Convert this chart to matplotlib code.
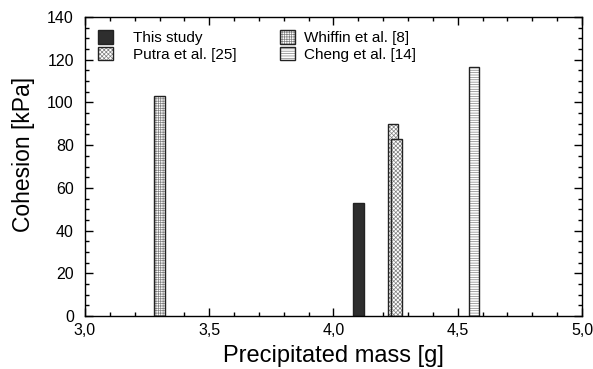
import matplotlib
matplotlib.use("Agg")
import matplotlib.pyplot as plt
from matplotlib.ticker import MultipleLocator, FuncFormatter

plt.rcParams['font.family'] = ['Liberation Sans', 'DejaVu Sans']
plt.rcParams['hatch.linewidth'] = 0.5

# Data
labels = ["This study", "Whiffin et al. [8]", "Putra et al. [25]", "Putra et al. [25]", "Cheng et al. [14]"]
mass = [4.10, 3.30, 4.24, 4.255, 4.565]
cohesion = [53, 103, 90, 83, 116.5]
hatches = [None, "+++++++", "xxxxxxxx", "xxxxxxxx", "-------"]
faces = ["#2e2e2e", "white", "white", "white", "white"]

fig = plt.figure(figsize=(5.93, 3.69), dpi=100)
ax = fig.add_axes([0.1433, 0.1436, 0.8381, 0.8103])

width = 0.043
handles = {}
for lab, x, y, h, fc in zip(labels, mass, cohesion, hatches, faces):
    b = ax.bar(x, y, width=width, color=fc, edgecolor="#222222", hatch=h,
               linewidth=1.0, zorder=2)
    for p in b:
        if h:
            p._hatch_color = matplotlib.colors.to_rgba("#808080")
    handles.setdefault(lab, b)

col1 = ["This study", "Putra et al. [25]"]
col2 = ["Whiffin et al. [8]", "Cheng et al. [14]"]
leg1 = ax.legend([handles[k] for k in col1], col1, loc="upper left",
                 frameon=False, fontsize=11, handlelength=1.0, handleheight=1.0,
                 handletextpad=1.3, labelspacing=0.1,
                 bbox_to_anchor=(0.0, 1.0), borderaxespad=0.45)
ax.add_artist(leg1)
leg2 = ax.legend([handles[k] for k in col2], col2, loc="upper left",
                 frameon=False, fontsize=11, handlelength=1.0, handleheight=1.0,
                 handletextpad=0.6, labelspacing=0.1,
                 bbox_to_anchor=(0.366, 1.0), borderaxespad=0.45)

ax.set_xlim(3.0, 5.0)
ax.set_ylim(0, 140)
ax.xaxis.set_major_locator(MultipleLocator(0.5))
ax.xaxis.set_minor_locator(MultipleLocator(0.1))
ax.yaxis.set_major_locator(MultipleLocator(20))
ax.yaxis.set_minor_locator(MultipleLocator(5))
ax.xaxis.set_major_formatter(FuncFormatter(lambda v, p: f"{v:.1f}".replace(".", ",")))
ax.tick_params(which="both", direction="in", top=True, right=True, labelsize=11.5)
ax.tick_params(which="major", length=6, width=1)
ax.tick_params(which="minor", length=3, width=1)
ax.tick_params(axis="x", pad=5)
ax.tick_params(axis="y", pad=8)
for s in ax.spines.values():
    s.set_linewidth(1.0)

ax.set_xlabel("Precipitated mass [g]", fontsize=17, labelpad=5)
ax.set_ylabel("Cohesion [kPa]", fontsize=16.5)
ax.yaxis.set_label_coords(-0.100, 0.54)

fig.savefig("out.png", dpi=100)
